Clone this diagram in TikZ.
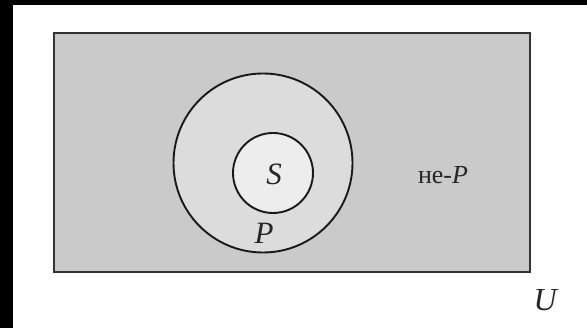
\documentclass[tikz,border=0pt]{standalone}
\usepackage{fontspec}
\setmainfont{Liberation Serif}[ItalicFont={Liberation Serif Italic}]
\definecolor{ubg}{HTML}{CACACA}
\definecolor{pbg}{HTML}{DCDCDC}
\definecolor{sbg}{HTML}{EDEDED}
\definecolor{edge}{HTML}{333333}
\tikzset{
  setcircle/.style={circle, draw=black!90, line width=1.9pt, inner sep=0pt},
  lbl/.style={inner sep=0pt, text=black!85, font=\fontsize{31}{33}\selectfont}
}
\begin{document}
\begin{tikzpicture}[x=1pt,y=-1pt]
\useasboundingbox (0,0) rectangle (587,328);
\fill[white] (0,0) rectangle (587,328);
\fill[black] (0,0) rectangle (13,328);
\fill[black] (0,0) rectangle (587,5);
\node[draw=edge, line width=1.9pt, fill=ubg, inner sep=0pt, minimum width=476pt, minimum height=239pt] (U) at (292,152.5) {};
\node[setcircle, fill=pbg, minimum size=179pt] (P) at (263,163) {};
\node[setcircle, fill=sbg, minimum size=80pt] (S) at (273,173) {};
\node[lbl] (sl) at (274,174) {\textit{S}};
\node[lbl] (pl) at (264,233) {\textit{P}};
\node[lbl, font=\fontsize{26}{28}\selectfont] (np) at (443,175) {не-\textit{P}};
\node[lbl, font=\fontsize{32}{34}\selectfont] (ul) at (546,300) {\textit{U}};
\end{tikzpicture}
\end{document}
